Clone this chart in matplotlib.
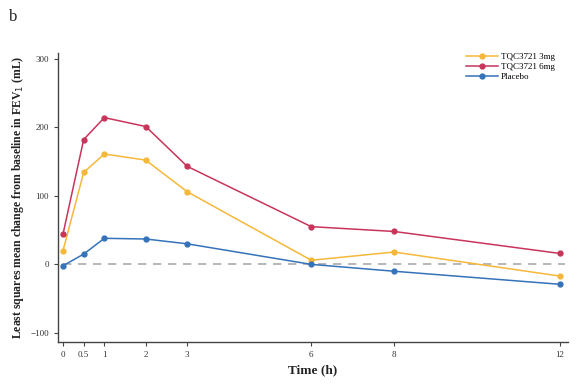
import matplotlib.pyplot as plt

plt.rcParams['font.family'] = ['Liberation Serif', 'DejaVu Serif']

time_h = [0, 0.5, 1, 2, 3, 6, 8, 12]
tqc_3mg = [20, 134, 161, 152, 106, 6, 18, -17]
tqc_6mg = [44, 182, 214, 201, 143, 55, 48, 16]
placebo = [-2, 15, 38, 37, 30, 0, -10, -29]

fig = plt.figure(figsize=(5.86, 3.85), dpi=100)
ax = fig.add_axes([0.099, 0.112, 0.87, 0.75])

ax.axhline(0, xmin=0.01, xmax=0.995, color='#aaaaaa', lw=1.2, ls=(0, (5, 4)), zorder=1)

ax.plot(time_h, tqc_3mg, color='#F5B83A', marker='o', ms=3.5, lw=1.1, label='TQC3721 3mg')
ax.plot(time_h, tqc_6mg, color='#C8345A', marker='o', ms=3.5, lw=1.1, label='TQC3721 6mg')
ax.plot(time_h, placebo, color='#3572B8', marker='o', ms=3.5, lw=1.1, label='Placebo')

ax.set_xlim(-0.12, 12.2)
ax.set_ylim(-113, 308)
ax.set_xticks(time_h)
ax.set_xticklabels(['0', '0.5', '1', '2', '3', '6', '8', '12'])
ax.set_yticks([-100, 0, 100, 200, 300])

for s in ['top', 'right']:
    ax.spines[s].set_visible(False)
for s in ['left', 'bottom']:
    ax.spines[s].set_color('#444444')
    ax.spines[s].set_linewidth(1.0)
ax.tick_params(labelsize=6.5, length=3, width=0.8, color='#444444', labelcolor='#333333')

ax.set_xlabel('Time (h)', fontsize=9.5, fontweight='bold', color='#222222')
ax.set_ylabel('Least squares mean change from baseline in FEV$_1$ (mL)',
              fontsize=8.5, fontweight='bold', color='#222222', labelpad=3)

ax.legend(loc='upper right', bbox_to_anchor=(0.99, 1.03), frameon=False,
          fontsize=6.5, handlelength=3.5, handletextpad=0.3, labelspacing=0.2)

fig.text(0.016, 0.945, 'b', fontsize=12, color='#222222')

fig.savefig('out.png', dpi=100)
